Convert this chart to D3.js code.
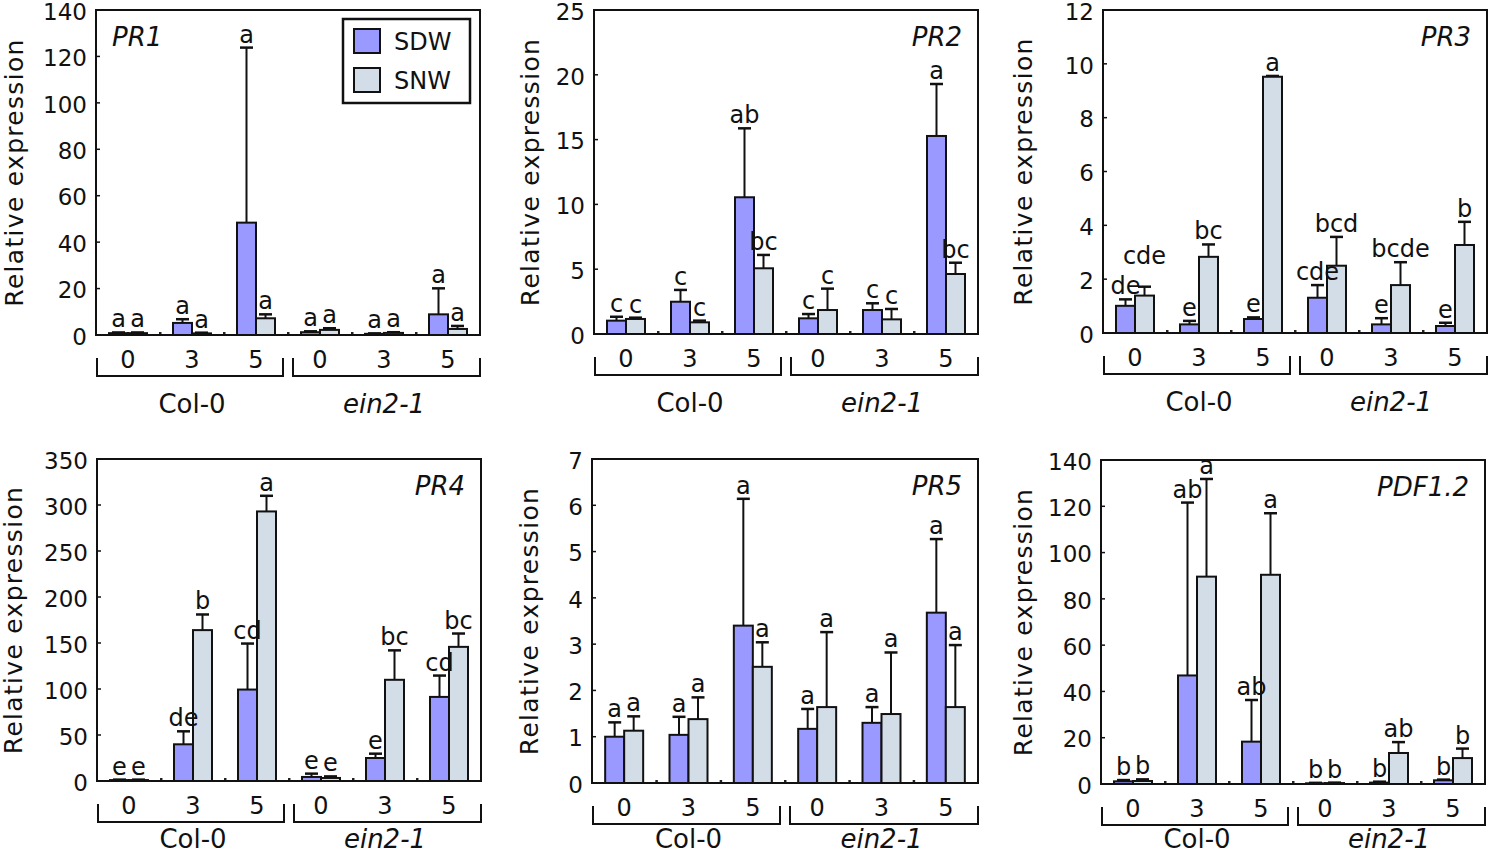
<!DOCTYPE html>
<html><head><meta charset="utf-8">
<script src="https://cdn.jsdelivr.net/npm/d3@7"></script>
<style>
html,body{margin:0;padding:0;background:#fff;}
svg{display:block;font-family:"DejaVu Sans",Verdana,sans-serif;}
</style></head>
<body><svg id="chart" width="1489" height="857"></svg>
<script>
// ---------- data ----------
const times = ["0","3","5","0","3","5"];
const genotypes = ["Col-0","ein2-1"];
const seriesNames = ["SDW","SNW"];
const genes = ["PR1","PR2","PR3","PR4","PR5","PDF1.2"];
const yMax = [140, 25, 12, 350, 7, 140];
const yStep = [20, 5, 2, 50, 1, 20];

const pr1SDW = [0.8, 5.2, 48.4, 1.2, 0.5, 8.9];
const pr1SDWerr = [0.3, 1.6, 75.4, 0.4, 0.2, 11.2];
const pr1SNW = [0.8, 0.7, 7.2, 2.2, 0.9, 2.6];
const pr1SNWerr = [0.3, 0.3, 1.7, 0.7, 0.3, 1.3];
const pr1Letters = [["a","a"],["a","a"],["a","a"],["a","a"],["a","a"],["a","a"]];

const pr2SDW = [1.03, 2.49, 10.55, 1.21, 1.85, 15.28];
const pr2SDWerr = [0.30, 0.91, 5.32, 0.33, 0.52, 4.01];
const pr2SNW = [1.16, 0.90, 5.07, 1.85, 1.13, 4.63];
const pr2SNWerr = [0.10, 0.13, 1.03, 1.65, 0.80, 0.87];
const pr2Letters = [["c","c"],["c","c"],["ab","bc"],["c","c"],["c","c"],["a","bc"]];

const pr3SDW = [1.01, 0.32, 0.52, 1.31, 0.32, 0.26];
const pr3SDWerr = [0.24, 0.13, 0.06, 0.47, 0.23, 0.12];
const pr3SNW = [1.39, 2.83, 9.52, 2.50, 1.78, 3.27];
const pr3SNWerr = [0.33, 0.46, 0.03, 1.07, 0.85, 0.86];
const pr3Letters = [["de","cde"],["e","bc"],["e","a"],["cde","bcd"],["e","bcde"],["e","b"]];

const pr4SDW = [1.0, 39.9, 99.4, 4.4, 25.0, 91.4];
const pr4SDWerr = [0.5, 14.1, 50.0, 3.6, 4.7, 23.2];
const pr4SNW = [1.0, 164.0, 293.0, 3.3, 110.0, 145.8];
const pr4SNWerr = [0.5, 17.0, 17.0, 1.7, 32.0, 14.5];
const pr4Letters = [["e","e"],["de","b"],["cd","a"],["e","e"],["e","bc"],["cd","bc"]];

const pr5SDW = [1.00, 1.04, 3.40, 1.17, 1.30, 3.68];
const pr5SDWerr = [0.31, 0.39, 2.74, 0.43, 0.34, 1.59];
const pr5SNW = [1.13, 1.38, 2.51, 1.64, 1.49, 1.64];
const pr5SNWerr = [0.31, 0.47, 0.53, 1.62, 1.33, 1.34];
const pr5Letters = [["a","a"],["a","a"],["a","a"],["a","a"],["a","a"],["a","a"]];

const pdfSDW = [1.15, 46.9, 18.3, 0.3, 0.6, 1.6];
const pdfSDWerr = [0.55, 74.7, 18.0, 0.2, 0.4, 0.3];
const pdfSNW = [1.3, 89.6, 90.4, 0.4, 13.4, 11.2];
const pdfSNWerr = [0.7, 42.2, 26.6, 0.2, 4.7, 4.1];
const pdfLetters = [["b","b"],["ab","a"],["ab","a"],["b","b"],["b","ab"],["b","b"]];

const meansSDW = [pr1SDW, pr2SDW, pr3SDW, pr4SDW, pr5SDW, pdfSDW];
const errsSDW = [pr1SDWerr, pr2SDWerr, pr3SDWerr, pr4SDWerr, pr5SDWerr, pdfSDWerr];
const meansSNW = [pr1SNW, pr2SNW, pr3SNW, pr4SNW, pr5SNW, pdfSNW];
const errsSNW = [pr1SNWerr, pr2SNWerr, pr3SNWerr, pr4SNWerr, pr5SNWerr, pdfSNWerr];
const letters = [pr1Letters, pr2Letters, pr3Letters, pr4Letters, pr5Letters, pdfLetters];

// ---------- layout / style ----------
const colors = {SDW:"#9999ff", SNW:"#d3dde8"};
const frames = [
  {x:96,  y:10,  w:384, h:325, titleX:14,   groupDy:78, geneLeft:true},
  {x:594, y:10,  w:384, h:324, titleX:530,  groupDy:78},
  {x:1103,y:10,  w:384, h:323, titleX:1023, groupDy:78},
  {x:97,  y:459, w:384, h:322, titleX:13,   groupDy:67},
  {x:592, y:459, w:386, h:324, titleX:529,  groupDy:65},
  {x:1101,y:460, w:384, h:324, titleX:1023, groupDy:64}
];

const svg = d3.select("#chart");

genes.forEach((gene, pi) => {
  const f = frames[pi];
  const g = svg.append("g").attr("transform", `translate(${f.x},${f.y})`);
  const y = d3.scaleLinear().domain([0, yMax[pi]]).range([f.h, 0]);
  const idx = d3.range(times.length);
  const x0 = d3.scaleBand().domain(idx).range([0, f.w]).padding(0);
  const x1 = d3.scaleBand().domain(seriesNames).range([x0.bandwidth()/2 - 19, x0.bandwidth()/2 + 19]);

  // y axis ticks (inward) + labels
  const ticks = d3.range(0, yMax[pi] + yStep[pi]/2, yStep[pi]);
  const yAxis = d3.axisLeft(y).tickValues(ticks).tickSize(0).tickPadding(9).tickFormat(d3.format("d"));
  const ya = g.append("g").call(yAxis);
  ya.select(".domain").remove();
  ya.selectAll("text").attr("font-size", 23).attr("fill", "#111").attr("dy", "0.4em")
    .attr("font-family", "DejaVu Sans, Verdana, sans-serif");
  g.append("g").selectAll("line").data(ticks).join("line")
    .attr("x1", 0).attr("x2", 4).attr("y1", d => y(d)).attr("y2", d => y(d))
    .attr("stroke", "#111").attr("stroke-width", 1.5);

  // group separator ticks on x axis
  g.append("g").selectAll("rect").data(d3.range(1, times.length)).join("rect")
    .attr("x", d => x0(d) - 1).attr("y", f.h - 3).attr("width", 2.5).attr("height", 3)
    .attr("fill", "#222");

  // bars
  const bars = [];
  idx.forEach(i => {
    bars.push({i, s:"SDW", v:meansSDW[pi][i], e:errsSDW[pi][i], l:letters[pi][i][0]});
    bars.push({i, s:"SNW", v:meansSNW[pi][i], e:errsSNW[pi][i], l:letters[pi][i][1]});
  });
  const cx = d => x0(d.i) + x1(d.s) + x1.bandwidth()/2;

  // error bars
  const eg = g.append("g");
  eg.selectAll("line.v").data(bars).join("line").attr("class","v")
    .attr("x1", cx).attr("x2", cx).attr("y1", d => y(d.v)).attr("y2", d => y(d.v + d.e))
    .attr("stroke", "#111").attr("stroke-width", 2);
  eg.selectAll("line.c").data(bars).join("line").attr("class","c")
    .attr("x1", d => cx(d) - 6.5).attr("x2", d => cx(d) + 6.5)
    .attr("y1", d => y(d.v + d.e)).attr("y2", d => y(d.v + d.e))
    .attr("stroke", "#111").attr("stroke-width", 2.5);

  g.append("g").selectAll("rect").data(bars).join("rect")
    .attr("x", d => x0(d.i) + x1(d.s)).attr("width", x1.bandwidth())
    .attr("y", d => y(d.v)).attr("height", d => f.h - y(d.v))
    .attr("fill", d => colors[d.s]).attr("stroke", "#111").attr("stroke-width", 2);

  // significance letters
  const lt = g.append("g").selectAll("text").data(bars).join("text")
    .attr("x", cx).attr("y", d => y(d.v + d.e) - 5)
    .attr("text-anchor", "middle").attr("font-size", 24).attr("fill", "#111")
    .text(d => d.l);
  // lift the second letter of a pair if it collides with the first
  const nodes = lt.nodes();
  for (let k = 0; k < nodes.length; k += 2) {
    const a = nodes[k].getBBox(), b = nodes[k+1].getBBox();
    const hOver = a.x + a.width > b.x && b.x + b.width > a.x;
    const vOver = a.y + a.height * 0.8 > b.y + b.height * 0.2 && b.y + b.height * 0.8 > a.y + a.height * 0.2;
    if (hOver && vOver) {
      const by = +d3.select(nodes[k+1]).attr("y");
      const ay = +d3.select(nodes[k]).attr("y");
      d3.select(nodes[k+1]).attr("y", Math.min(by, ay - 30));
    }
  }

  // frame
  g.append("rect").attr("x", 0).attr("y", 0).attr("width", f.w).attr("height", f.h)
    .attr("fill", "none").attr("stroke", "#111").attr("stroke-width", 2);

  // gene label
  g.append("text")
    .attr("x", f.geneLeft ? 16 : f.w - 16).attr("y", 36)
    .attr("text-anchor", f.geneLeft ? "start" : "end")
    .attr("font-size", 26).attr("font-style", "italic").attr("fill", "#111")
    .text(gene);

  // time labels
  g.append("g").selectAll("text").data(idx).join("text")
    .attr("x", i => x0(i) + x0.bandwidth()/2).attr("y", f.h + 33)
    .attr("text-anchor", "middle").attr("font-size", 24).attr("fill", "#111")
    .text(i => times[i]);

  // genotype brackets
  const half = f.w / 2;
  const brackets = [{a:1, b:half - 5, name:genotypes[0]}, {a:half + 5, b:f.w, name:genotypes[1]}];
  brackets.forEach((br, bi) => {
    g.append("path")
      .attr("d", `M${br.a},${f.h + 23}V${f.h + 41}H${br.b}V${f.h + 23}`)
      .attr("fill", "none").attr("stroke", "#111").attr("stroke-width", 2);
    g.append("text").attr("x", (bi === 0 ? half/2 : half*1.5)).attr("y", f.h + f.groupDy)
      .attr("text-anchor", "middle").attr("font-size", 26).attr("fill", "#111")
      .attr("font-style", bi === 1 ? "italic" : "normal")
      .text(br.name);
  });

  // y title
  svg.append("text")
    .attr("transform", `translate(${f.titleX + 9},${f.y + f.h/2}) rotate(-90)`)
    .attr("text-anchor", "middle").attr("font-size", 25).attr("letter-spacing", 1.3)
    .attr("fill", "#111").text("Relative expression");

  // legend in first panel
  if (pi === 0) {
    const lg = g.append("g").attr("transform", `translate(${343 - f.x},${19 - f.y})`);
    lg.append("rect").attr("width", 127).attr("height", 84)
      .attr("fill", "#fff").attr("stroke", "#111").attr("stroke-width", 2.5);
    seriesNames.forEach((s, k) => {
      lg.append("rect").attr("x", 11).attr("y", 10 + k*39).attr("width", 26).attr("height", 24)
        .attr("fill", colors[s]).attr("stroke", "#111").attr("stroke-width", 2);
      lg.append("text").attr("x", 51).attr("y", 31 + k*39).attr("font-size", 24)
        .attr("fill", "#111").text(s);
    });
  }
});
</script>
</body></html>
